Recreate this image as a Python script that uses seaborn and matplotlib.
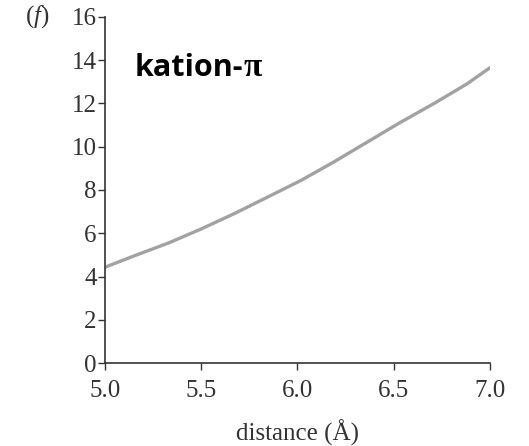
import matplotlib
matplotlib.use("Agg")
import matplotlib.pyplot as plt
import pandas as pd
import seaborn as sns

# Data
distance = [5.0, 5.15, 5.33, 5.5, 5.67, 5.84, 6.02, 6.19, 6.36, 6.53, 6.71, 6.88, 7.0]
energy = [4.43, 4.95, 5.55, 6.2, 6.9, 7.65, 8.45, 9.3, 10.2, 11.1, 12.0, 12.9, 13.65]
x_ticks = [5.0, 5.5, 6.0, 6.5, 7.0]
y_ticks = [0, 2, 4, 6, 8, 10, 12, 14, 16]

df = pd.DataFrame({"distance": distance, "energy": energy})

sns.set_theme(style="ticks")
plt.rcParams["font.family"] = ["Liberation Serif", "DejaVu Serif"]
plt.rcParams["mathtext.fontset"] = "custom"
plt.rcParams["mathtext.it"] = "Liberation Serif:italic"
plt.rcParams["mathtext.rm"] = "Liberation Serif"

fig = plt.figure(figsize=(5.29, 4.46), dpi=100)
ax = fig.add_axes([0.1985, 0.186, 0.7275, 0.776])

sns.lineplot(data=df, x="distance", y="energy", ax=ax, color="#a2a2a2", linewidth=2.4)

ax.set_xlim(5.0, 7.0)
ax.set_ylim(0, 16)
ax.set_xticks(x_ticks)
ax.set_xticklabels([f"{v:.1f}" for v in x_ticks])
ax.set_yticks(y_ticks)
sns.despine(ax=ax)
for s in ["left", "bottom"]:
    ax.spines[s].set_color("#333333")
    ax.spines[s].set_linewidth(1.2)
ax.tick_params(axis="both", labelsize=18, colors="#333333", length=5, width=1.0)
ax.tick_params(axis="y", pad=1)
ax.tick_params(axis="x", pad=7)
ax.set_xlabel("distance (Å)", fontsize=18, color="#333333", labelpad=13)
ax.set_ylabel("")

fig.text(0.047, 0.962, r"($f$)", fontsize=18, color="#333333", va="center")

t1 = ax.text(0.078, 0.83, "kation-", transform=ax.transAxes, fontsize=22,
             fontweight="bold", family=["Open Sans", "DejaVu Sans"], color="black",
             va="baseline")
ax.annotate("π", xy=(1, 0), xycoords=t1, fontsize=24, fontweight="bold",
            family=["Liberation Serif", "DejaVu Serif"], color="black",
            va="bottom", ha="left")

fig.savefig("out.png", dpi=100)
